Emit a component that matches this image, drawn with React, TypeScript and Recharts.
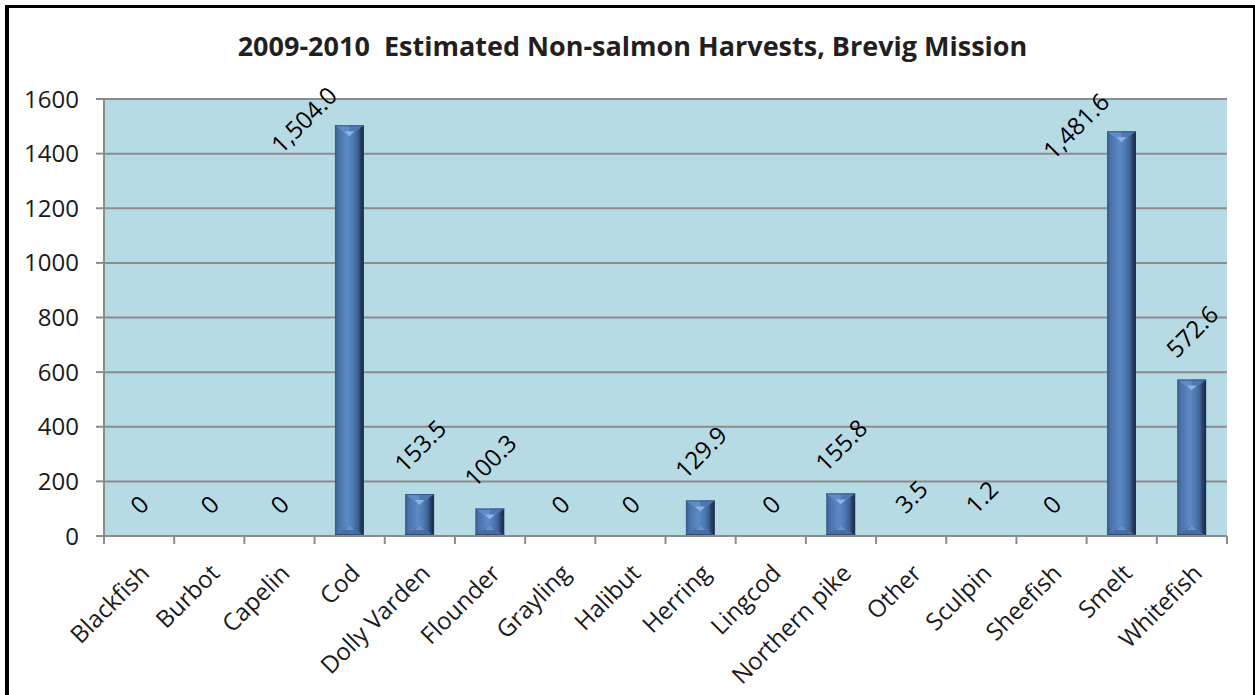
import React from 'react';
import { BarChart, Bar, XAxis, YAxis, CartesianGrid, LabelList } from 'recharts';

// Estimated harvests (number of fish) by species, Brevig Mission 2009-2010
const categories = [
  'Blackfish', 'Burbot', 'Capelin', 'Cod', 'Dolly Varden', 'Flounder', 'Grayling', 'Halibut',
  'Herring', 'Lingcod', 'Northern pike', 'Other', 'Sculpin', 'Sheefish', 'Smelt', 'Whitefish',
];
const harvests = [0, 0, 0, 1504.0, 153.5, 100.3, 0, 0, 129.9, 0, 155.8, 3.5, 1.2, 0, 1481.6, 572.6];
const yTicks = [0, 200, 400, 600, 800, 1000, 1200, 1400, 1600];
const title = '2009-2010  Estimated Non-salmon Harvests, Brevig Mission';

const data = categories.map((name, i) => ({ name, value: harvests[i] }));

// Layout constants
const W = 1255;
const H = 695;
const MARGIN = { top: 99, right: 28, bottom: 0, left: 0 };
const Y_AXIS_W = 104;
const X_AXIS_H = 159;
const PLOT_TOP = MARGIN.top;
const PLOT_W = W - MARGIN.left - MARGIN.right - Y_AXIS_W;
const BAND = PLOT_W / categories.length;

const FONT = '"Open Sans", "DejaVu Sans", sans-serif';
const FS = 24;
const AXIS_GRAY = '#8c8c8c';
const PLOT_BG = '#b7dbe4';

const fmt = (v: number) =>
  v === 0 ? '0' : v.toLocaleString('en-US', { minimumFractionDigits: 1, maximumFractionDigits: 1 });

// rough width of a numeric label in Open Sans
const labelWidth = (s: string) =>
  s.split('').reduce((acc, ch) => acc + (ch === ',' || ch === '.' ? 0.27 : 0.572) * FS, 0);

function ValueLabel(props: any) {
  const { x, y, width, value } = props;
  const text = fmt(Number(value));
  const L = labelWidth(text);
  const half = (L + 0.714 * FS) * 0.7071 / 2;
  let cx = x + width / 2;
  let cy = y - 21 - half;
  // labels that would run past the top of the plot slide down-left beside the bar
  if (cy - half < PLOT_TOP) {
    cx -= 46;
    cy += 50;
  }
  return (
    <text
      x={cx}
      y={cy}
      transform={`rotate(-45, ${cx}, ${cy})`}
      textAnchor="middle"
      dominantBaseline="central"
      fontFamily={FONT}
      fontSize={FS}
      fill="#000"
    >
      {text}
    </text>
  );
}

function BevelBar(props: any) {
  const { x, y, width, height, index } = props;
  if (!height || height <= 0) return null;
  const w = width;
  const h = height;
  const cx = x + w / 2;
  const b = Math.min(11, h / 2, w / 2);
  const hl = Math.min(5, b / 2);
  const gid = `barGrad${index}`;
  return (
    <g>
      <defs>
        <linearGradient id={gid} x1="0" y1="0" x2="1" y2="0">
          <stop offset="0%" stopColor="#36598a" />
          <stop offset="12%" stopColor="#4a71a8" />
          <stop offset="42%" stopColor="#5b8ac6" />
          <stop offset="62%" stopColor="#4f7bb5" />
          <stop offset="80%" stopColor="#3c5f90" />
          <stop offset="88%" stopColor="#26406a" />
          <stop offset="100%" stopColor="#1a2b45" />
        </linearGradient>
      </defs>
      <rect x={x} y={y} width={w} height={h} fill={`url(#${gid})`} />
      {/* top bevel */}
      <polygon points={`${x},${y} ${cx},${y} ${cx},${y + b}`} fill="#5f8dcb" />
      <polygon points={`${cx},${y} ${x + w},${y} ${cx},${y + b}`} fill="#4e78b2" />
      <polygon points={`${cx - hl},${y + b - hl} ${cx + hl},${y + b - hl} ${cx},${y + b}`} fill="#8cb4e3" />
      <rect x={x} y={y} width={w} height={Math.min(1, h)} fill="#3a5c8c" />
      {/* bottom bevel */}
      <polygon points={`${x},${y + h} ${x + w},${y + h} ${cx},${y + h - b}`} fill="#476ea4" />
      <polygon points={`${cx - hl},${y + h - b + hl} ${cx + hl},${y + h - b + hl} ${cx},${y + h - b}`} fill="#6592cc" />
      <rect x={x} y={y + h - Math.min(2, h)} width={w} height={Math.min(2, h)} fill="#2f4c75" />
    </g>
  );
}

function CategoryTick(props: any) {
  const { x, y, payload, index } = props;
  const halfBand = BAND / 2;
  const last = index === categories.length - 1;
  const ax = x + 5;
  const ay = y + 32;
  return (
    <g>
      <line x1={x - halfBand} x2={x - halfBand} y1={y} y2={y + 8} stroke={AXIS_GRAY} strokeWidth={2} />
      {last && <line x1={x + halfBand} x2={x + halfBand} y1={y} y2={y + 8} stroke={AXIS_GRAY} strokeWidth={2} />}
      <text
        x={ax}
        y={ay}
        transform={`rotate(-45, ${ax}, ${ay})`}
        textAnchor="end"
        dominantBaseline="central"
        fontFamily={FONT}
        fontSize={FS}
        fill="#1a1a1a"
      >
        {payload.value}
      </text>
    </g>
  );
}

export default function App() {
  return (
    <div style={{ position: 'absolute', left: 0, top: 0, width: W, height: H, background: '#fff', overflow: 'hidden' }}>
      <div
        style={{
          position: 'absolute',
          left: 5,
          top: 5,
          width: W - 4,
          height: H + 10,
          boxSizing: 'border-box',
          borderLeft: '4px solid #000',
          borderTop: '3px solid #000',
          borderRight: '3px solid #000',
        }}
      />
      <div
        style={{
          position: 'absolute',
          left: 0,
          width: W + 10,
          top: 29,
          textAlign: 'center',
          fontFamily: FONT,
          fontWeight: 700,
          fontSize: 27,
          lineHeight: '34px',
          whiteSpace: 'pre',
          color: '#231f20',
          zIndex: 2,
        }}
      >
        {title}
      </div>
      <div style={{ position: 'absolute', left: 0, top: 0 }}>
        <BarChart width={W} height={H} data={data} margin={MARGIN} barCategoryGap="29%">
          <CartesianGrid vertical={false} stroke={AXIS_GRAY} strokeWidth={2} fill={PLOT_BG} fillOpacity={1} />
          <XAxis
            dataKey="name"
            height={X_AXIS_H}
            interval={0}
            tickSize={0}
            tickMargin={0}
            tickLine={false}
            axisLine={{ stroke: AXIS_GRAY, strokeWidth: 2 }}
            tick={<CategoryTick />}
          />
          <YAxis
            width={Y_AXIS_W}
            domain={[0, 1600]}
            ticks={yTicks}
            interval={0}
            tickSize={8}
            tickMargin={17}
            tickLine={{ stroke: AXIS_GRAY, strokeWidth: 2 }}
            axisLine={{ stroke: AXIS_GRAY, strokeWidth: 2 }}
            tick={{ fontFamily: FONT, fontSize: FS, fill: '#1a1a1a' }}
          />
          <Bar dataKey="value" isAnimationActive={false} shape={<BevelBar />}>
            <LabelList dataKey="value" content={<ValueLabel />} />
          </Bar>
        </BarChart>
      </div>
    </div>
  );
}
